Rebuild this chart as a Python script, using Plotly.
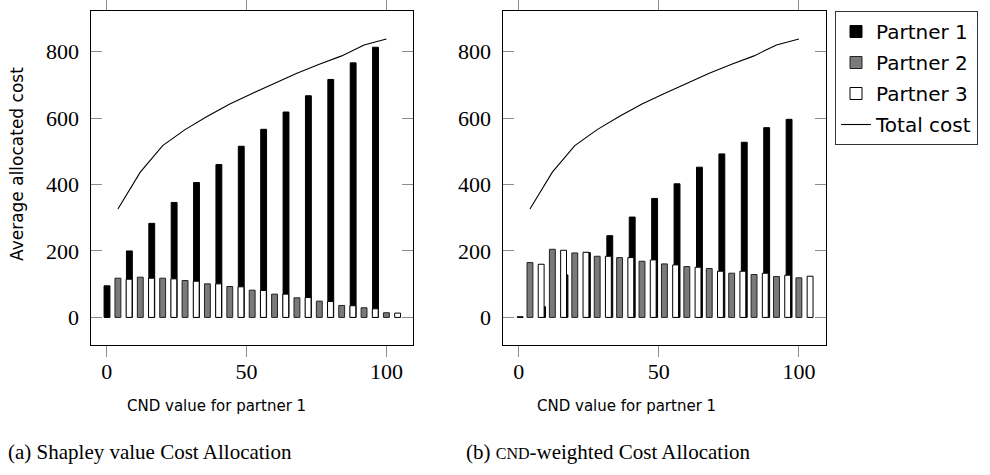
import plotly.graph_objects as go

# ---------------- data ----------------
cnd_groups = [0, 8, 16, 24, 32, 40, 48, 56, 64, 72, 80, 88, 96]
x_ticks = [0, 50, 100]
y_ticks = [0, 200, 400, 600, 800]

p1_shapley = [95, 200, 283, 346, 406, 460, 515, 566, 618, 667, 716, 766, 813]
p2_shapley = [118, 121, 118, 111, 101, 93, 82, 70, 59, 49, 36, 29, 14]
p3_shapley = [115, 118, 116, 109, 101, 92, 81, 70, 60, 48, 35, 26, 13]

p1_cnd = [2, 32, 128, 195, 246, 302, 358, 402, 452, 492, 527, 571, 596]
p2_cnd = [165, 205, 194, 184, 180, 169, 161, 153, 147, 133, 129, 123, 119]
p3_cnd = [160, 202, 196, 184, 180, 173, 158, 151, 139, 139, 133, 127, 124]

total_cost = [326, 437, 517, 565, 605, 642, 674, 704, 735, 762, 787, 820, 838]

series_names = ["Partner 1", "Partner 2", "Partner 3", "Total cost"]
x_title = "CND value for partner 1"
y_title = "Average allocated cost"
caption_a = "(a) Shapley value Cost Allocation"
caption_b = "(b) <span style='font-size:16px'>CND</span>-weighted Cost Allocation"

# ---------------- style ----------------
W, H = 990, 475
SANS = "DejaVu Sans"
SERIF = "Liberation Serif"
BAR_W = 2.1
SHIFT2, SHIFT3 = 4, 8
fills = ["#000000", "#7a7a7a", "#ffffff"]
edges = ["#000000", "#222222", "#000000"]


def px_x(p):
    return p / W


def px_y(p):
    return 1 - p / H


fig = go.Figure()


def add_panel(xa, ya, p1, p2, p3, p1_offset, show):
    sets = [
        ([g + p1_offset for g in cnd_groups], p1),
        ([g + SHIFT2 for g in cnd_groups], p2),
        ([g + SHIFT3 for g in cnd_groups], p3),
    ]
    for i, (xs, ys) in enumerate(sets):
        fig.add_trace(go.Bar(
            x=xs, y=ys, width=BAR_W, name=series_names[i],
            marker=dict(color=fills[i], line=dict(color=edges[i], width=1)),
            xaxis=xa, yaxis=ya, showlegend=show, legendgroup=series_names[i],
        ))
    fig.add_trace(go.Scatter(
        x=[g + SHIFT2 for g in cnd_groups], y=total_cost, mode="lines",
        line=dict(color="black", width=1.1), name=series_names[3],
        xaxis=xa, yaxis=ya, showlegend=show, legendgroup=series_names[3],
    ))


add_panel("x", "y", p1_shapley, p2_shapley, p3_shapley, 0.1, True)
add_panel("x2", "y2", p1_cnd, p2_cnd, p3_cnd, 0.5, False)

xdom1 = [px_x(90.5), px_x(413)]
xdom2 = [px_x(502.5), px_x(825.5)]
ydom = [px_y(345), px_y(11)]

tick_font = dict(family=SERIF, size=22, color="black")

xcommon = dict(
    range=[-5.8, 109.5], tickvals=x_ticks, ticks="outside", ticklen=11,
    tickcolor="#8c8c8c", tickwidth=1, showline=True, linecolor="black",
    linewidth=1, mirror="ticks", showgrid=False, zeroline=False,
    tickfont=tick_font, ticklabelstandoff=-4,
)
ycommon = dict(
    range=[-83, 922], tickvals=y_ticks, ticks="inside", ticklen=11,
    tickcolor="#8c8c8c", tickwidth=1, showline=True, linecolor="black",
    linewidth=1, mirror="ticks", showgrid=False, zeroline=False,
    tickfont=tick_font, ticklabelstandoff=6,
)

fig.update_layout(
    width=W, height=H,
    template="none",
    font=dict(family=SERIF, size=16, color="black"),
    margin=dict(l=0, r=0, t=0, b=0),
    paper_bgcolor="white", plot_bgcolor="white",
    barmode="overlay",
    xaxis=dict(domain=xdom1, anchor="y", **xcommon),
    yaxis=dict(domain=ydom, anchor="x", **ycommon),
    xaxis2=dict(domain=xdom2, anchor="y2", **xcommon),
    yaxis2=dict(domain=ydom, anchor="x2", **ycommon),
    legend=dict(
        x=px_x(835), y=px_y(11), xanchor="left", yanchor="top",
        bordercolor="#333333", borderwidth=1, bgcolor="white",
        font=dict(family=SANS, size=20, color="black"),
        tracegroupgap=2, traceorder="grouped",
    ),
    showlegend=True,
)

annots = [
    dict(text=x_title, x=px_x(216), y=px_y(406), font=dict(family=SANS, size=15, color="black")),
    dict(text=x_title, x=px_x(626), y=px_y(406), font=dict(family=SANS, size=15, color="black")),
    dict(text=y_title, x=px_x(17), y=px_y(164), textangle=-90,
         font=dict(family=SANS, size=17, color="black")),
    dict(text=caption_a, x=px_x(150), y=px_y(452), font=dict(family=SERIF, size=21, color="black")),
    dict(text=caption_b, x=px_x(608), y=px_y(452), font=dict(family=SERIF, size=21, color="black")),
]
for a in annots:
    fig.add_annotation(xref="paper", yref="paper", showarrow=False,
                       xanchor="center", yanchor="middle", **a)

fig.write_html("out.html")
